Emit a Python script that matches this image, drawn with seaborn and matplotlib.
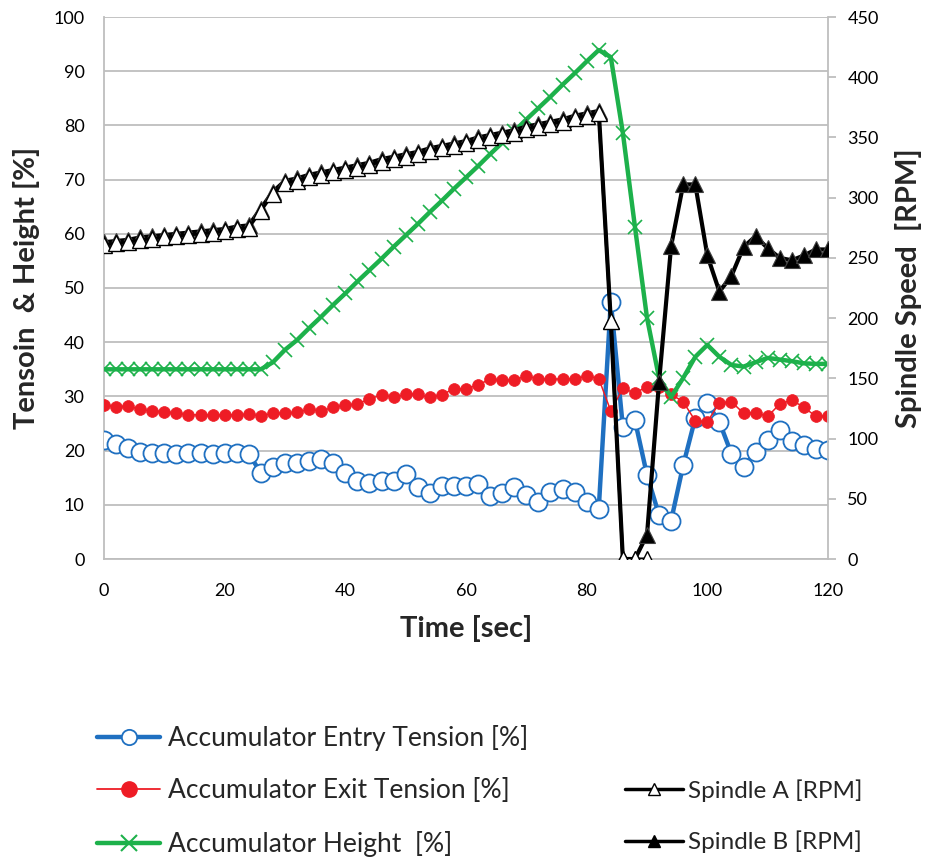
import matplotlib
matplotlib.use("Agg")
import matplotlib.pyplot as plt
from matplotlib.lines import Line2D
import seaborn as sns
import numpy as np

# ---------------- data ----------------
time = list(range(0, 122, 2))  # 0..120 sec every 2 sec

entry_tension = [22.0, 21.2, 20.5, 19.8, 19.6, 19.5, 19.4, 19.5, 19.5, 19.4,
                 19.6, 19.5, 19.4, 15.9, 17.0, 17.8, 17.7, 18.1, 18.4, 17.8,
                 15.8, 14.4, 14.1, 14.3, 14.3, 15.7, 13.2, 12.2, 13.5, 13.5,
                 13.5, 13.8, 11.6, 12.2, 13.3, 11.8, 10.6, 12.4, 12.9, 12.3,
                 10.6, 9.2, 47.5, 24.3, 25.6, 15.5, 8.1, 7.1, 17.3, 26.0,
                 28.7, 25.3, 19.4, 17.0, 19.8, 22.0, 23.8, 21.8, 21.0, 20.3,
                 20.1]

exit_tension = [28.4, 28.1, 28.2, 27.6, 27.3, 27.2, 26.9, 26.6, 26.6, 26.5,
                26.6, 26.6, 26.7, 26.4, 26.9, 26.9, 27.1, 27.6, 27.3, 28.0,
                28.4, 28.6, 29.5, 30.3, 29.8, 30.4, 30.4, 29.8, 30.3, 31.4,
                31.4, 32.1, 33.2, 33.0, 33.0, 33.8, 33.2, 33.2, 33.2, 33.2,
                33.8, 33.3, 27.3, 31.5, 30.6, 31.8, 31.7, 30.4, 29.0, 25.5,
                25.3, 28.8, 29.0, 26.9, 27.0, 26.3, 28.6, 29.3, 28.0, 26.3,
                26.4]

acc_height = [35.0, 35.0, 35.0, 35.0, 35.0, 35.0, 35.0, 35.0, 35.0, 35.0,
              35.0, 35.0, 35.0, 35.0, 36.3, 38.6, 40.4, 42.6, 44.7, 46.9,
              49.0, 51.2, 53.3, 55.4, 57.6, 59.7, 61.8, 64.0, 66.1, 68.3,
              70.4, 72.5, 74.7, 76.8, 78.9, 81.1, 83.2, 85.3, 87.5, 89.6,
              91.8, 93.9, 92.6, 78.6, 61.3, 44.5, 33.4, 29.9, 33.4, 37.3,
              39.5, 37.3, 35.8, 35.5, 36.3, 37.1, 36.8, 36.5, 36.1, 36.0,
              36.0]

time_a = list(range(0, 92, 2))  # 0..90 sec
spindle_a = [261, 262, 263, 265, 266, 267, 268, 269, 270, 271,
             272, 274, 275, 289, 303, 312, 314, 317, 319, 321,
             323, 325, 327, 330, 332, 334, 336, 339, 341, 343,
             345, 348, 350, 352, 354, 357, 359, 361, 363, 366,
             368, 370, 198, 0, 0, 0]

spindle_b = [263, 264, 265, 267, 268, 269, 270, 271, 272, 273,
             274, 276, 277, 291, 305, 314, 316, 319, 321, 323,
             325, 327, 329, 332, 334, 336, 338, 341, 343, 345,
             347, 350, 352, 354, 356, 359, 361, 363, 365, 368,
             370, 372, 198, 0, 0, 20, 147, 260, 311, 311,
             252, 222, 235, 259, 268, 258, 250, 248, 252, 257,
             257]

left_ticks = [0, 10, 20, 30, 40, 50, 60, 70, 80, 90, 100]
right_ticks = [0, 50, 100, 150, 200, 250, 300, 350, 400, 450]
x_ticks = [0, 20, 40, 60, 80, 100, 120]

labels = ["Accumulator Entry Tension [%]", "Accumulator Exit Tension [%]",
          "Accumulator Height  [%]", "Spindle A [RPM]", "Spindle B [RPM]"]

# ---------------- style ----------------
BLUE = "#1F70C1"
RED = "#EE1C25"
GREEN = "#1DB14B"
BLACK = "#000000"
GRID = "#BEBEBE"

sns.set_theme(style="white")
plt.rcParams["font.family"] = ["Lato", "DejaVu Sans"]

fig = plt.figure(figsize=(9.29, 8.57), dpi=100)
ax = fig.add_axes([104 / 929, 1 - 559 / 857, (828 - 104) / 929, (559 - 17) / 857])
ax2 = ax.twinx()

# primary series
sns.lineplot(x=time, y=entry_tension, ax=ax, color=BLUE, linewidth=3.2,
             marker="o", markersize=13, markerfacecolor="white",
             markeredgecolor=BLUE, markeredgewidth=1.3, errorbar=None, zorder=3)
sns.lineplot(x=time, y=exit_tension, ax=ax, color=RED, linewidth=1.1,
             marker="o", markersize=8.5, markerfacecolor=RED,
             markeredgecolor=RED, markeredgewidth=0.5, errorbar=None, zorder=4)
sns.lineplot(x=time, y=acc_height, ax=ax, color=GREEN, linewidth=3.2,
             marker="x", markersize=10, markeredgecolor=GREEN,
             markeredgewidth=1.2, errorbar=None, zorder=5)

# secondary series
sns.lineplot(x=time, y=spindle_b, ax=ax2, color=BLACK, linewidth=3.0,
             marker="^", markersize=11, markerfacecolor=BLACK,
             markeredgecolor="#404040", markeredgewidth=0.8, errorbar=None, zorder=3)
sns.lineplot(x=time_a, y=spindle_a, ax=ax2, color=BLACK, linewidth=2.2,
             marker="^", markersize=11, markerfacecolor="white",
             markeredgecolor=BLACK, markeredgewidth=1.0, errorbar=None, zorder=4)

# axes
ax.set_xlim(0, 120)
ax.set_ylim(0, 100)
ax2.set_ylim(0, 450)
ax.set_xticks(x_ticks)
ax.set_yticks(left_ticks)
ax2.set_yticks(right_ticks)
ax.yaxis.grid(True, color=GRID, linewidth=1.3)
ax.xaxis.grid(False)
ax2.grid(False)
ax.set_axisbelow(True)

for a in (ax, ax2):
    for s in a.spines.values():
        s.set_visible(False)
ax.spines["left"].set_visible(True)
ax.spines["bottom"].set_visible(True)
ax.spines["left"].set_color(GRID)
ax.spines["bottom"].set_color(GRID)
ax.spines["left"].set_linewidth(1.3)
ax.spines["bottom"].set_linewidth(1.3)
ax2.spines["right"].set_visible(True)
ax2.spines["right"].set_color(GRID)
ax2.spines["right"].set_linewidth(1.3)

ax.tick_params(axis="x", length=0, pad=17, labelsize=13, colors="black")
ax.tick_params(axis="y", length=0, pad=14, labelsize=13, colors="black")
ax2.tick_params(axis="y", length=6, width=1.3, color=GRID, pad=8,
                labelsize=13, labelcolor="black")

ax.set_xlabel("Time [sec]", fontsize=21, fontweight="bold", labelpad=12)
ax.set_ylabel("Tensoin  & Height [%]", fontsize=21, fontweight="bold", labelpad=10)
ax2.set_ylabel("Spindle Speed  [RPM]", fontsize=21, fontweight="bold", labelpad=12)

# legends
h_entry = Line2D([], [], color=BLUE, linewidth=3.2, marker="o", markersize=11,
                 markerfacecolor="white", markeredgecolor=BLUE, markeredgewidth=1.3)
h_exit = Line2D([], [], color=RED, linewidth=1.3, marker="o", markersize=11,
                markerfacecolor=RED, markeredgecolor=RED)
h_height = Line2D([], [], color=GREEN, linewidth=3.2, marker="x", markersize=11,
                  markeredgecolor=GREEN, markeredgewidth=1.5)
h_a = Line2D([], [], color=BLACK, linewidth=2.5, marker="^", markersize=9,
             markerfacecolor="white", markeredgecolor=BLACK, markeredgewidth=1.0)
h_b = Line2D([], [], color=BLACK, linewidth=2.5, marker="^", markersize=9,
             markerfacecolor=BLACK, markeredgecolor=BLACK)

fig.legend(handles=[h_entry, h_exit, h_height], labels=labels[:3],
           loc="upper left", bbox_to_anchor=(97 / 929, 1 - 725 / 857),
           frameon=False, fontsize=19, handlelength=2.4, handletextpad=0.3,
           labelspacing=1.04, borderpad=0, borderaxespad=0)
fig.legend(handles=[h_a, h_b], labels=labels[3:],
           loc="upper left", bbox_to_anchor=(625 / 929, 1 - 779 / 857),
           frameon=False, fontsize=17.5, handlelength=2.4, handletextpad=0.2,
           labelspacing=1.19, borderpad=0, borderaxespad=0)

fig.savefig("out.png", dpi=100)
